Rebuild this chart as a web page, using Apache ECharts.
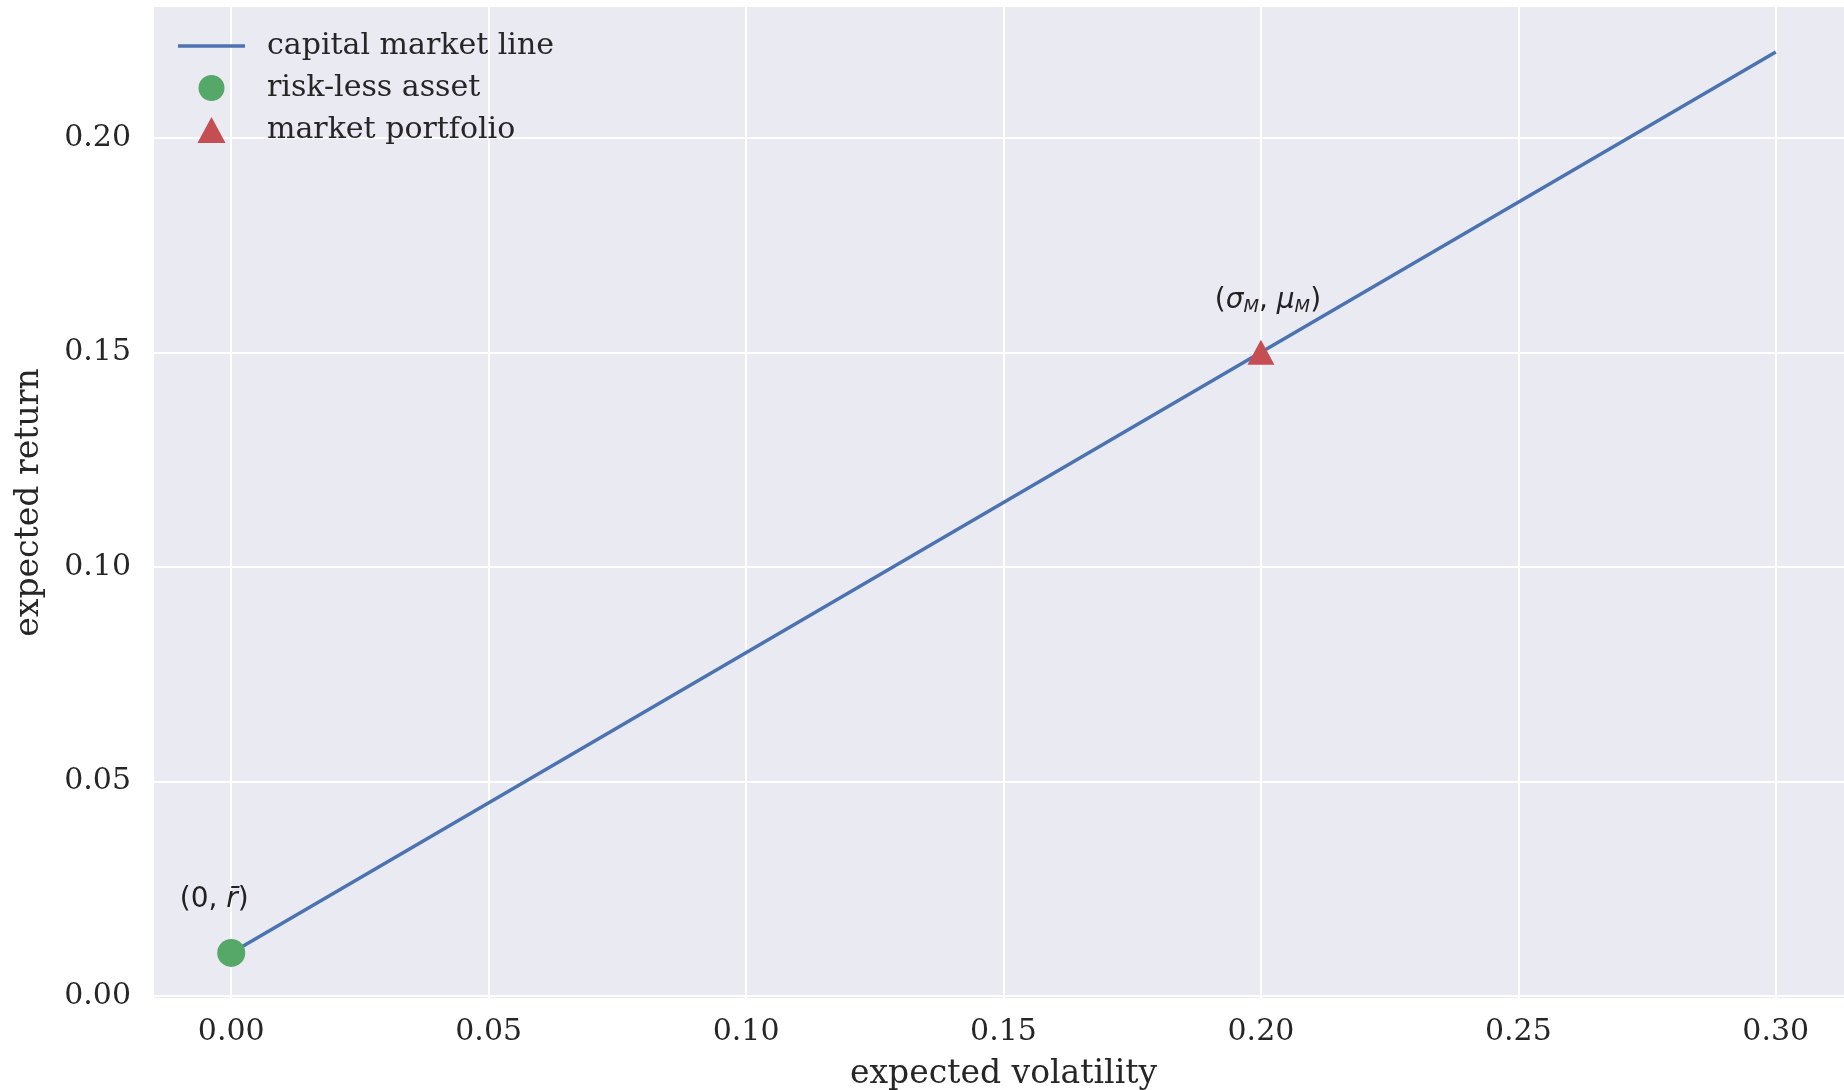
<!DOCTYPE html>
<html>
<head>
<meta charset="utf-8">
<script src="https://cdn.jsdelivr.net/npm/echarts@6/dist/echarts.min.js"></script>
<style>
  html, body { margin: 0; padding: 0; background: #ffffff; }
  #chart { width: 1844px; height: 1090px; }
</style>
</head>
<body>
<div id="chart"></div>
<script>
// ---- data ----
const cmlX = [0.0, 0.30];
const cmlY = [0.01, 0.22];
const risklessPoint = [0.0, 0.01];
const marketPoint = [0.20, 0.15];
const xTicks = [0.00, 0.05, 0.10, 0.15, 0.20, 0.25, 0.30];
const yTicks = [0.00, 0.05, 0.10, 0.15, 0.20];
const seriesNames = ['capital market line', 'risk-less asset', 'market portfolio'];
const xTitle = 'expected volatility';
const yTitle = 'expected return';

const SERIF = "'DejaVu Serif', serif";
const SANS = "'DejaVu Sans', sans-serif";
const TXT = '#262626';

const chart = echarts.init(document.getElementById('chart'), null, { renderer: 'canvas' });

const cmlData = cmlX.map((x, i) => [x, cmlY[i]]);

const subStyle = { fontFamily: SANS, fontStyle: 'italic', fontSize: 18, color: '#222', padding: [13, 0, 0, 0] };
const italStyle = { fontFamily: SANS, fontStyle: 'italic', fontSize: 28, color: '#222' };
const normStyle = { fontFamily: SANS, fontSize: 28, color: '#222' };

chart.setOption({
  animation: false,
  backgroundColor: '#ffffff',
  grid: {
    left: 154, top: 7, right: -9, bottom: 92,
    outerBoundsMode: 'none',
    containLabel: false,
    show: true, backgroundColor: '#EAEAF2', borderWidth: 0
  },
  legend: {
    data: [
      { name: seriesNames[0], icon: 'path://M0,0H67V3.5H0Z' },
      { name: seriesNames[1], icon: 'circle' },
      { name: seriesNames[2], icon: 'path://M13.5,0L27,25H0Z' }
    ],
    orient: 'vertical',
    left: 173, top: 26,
    itemWidth: 67, itemHeight: 26, itemGap: 12,
    textStyle: { fontFamily: SERIF, fontSize: 30, color: TXT, padding: [0, 0, 0, 17] }
  },
  xAxis: {
    type: 'value',
    min: -0.015, max: 0.315,
    name: xTitle, nameLocation: 'middle', nameGap: 60,
    nameTextStyle: { fontFamily: SERIF, fontSize: 33, color: TXT },
    axisLine: { show: false },
    axisTick: { show: false, customValues: xTicks },
    axisLabel: {
      customValues: xTicks, margin: 19,
      fontFamily: SERIF, fontSize: 30, color: TXT,
      formatter: v => Number(v).toFixed(2)
    },
    splitLine: { show: true, lineStyle: { color: '#ffffff', width: 2 } }
  },
  yAxis: {
    type: 'value',
    min: -0.0005, max: 0.2305,
    name: yTitle, nameLocation: 'middle', nameGap: 108, nameRotate: 90,
    nameTextStyle: { fontFamily: SERIF, fontSize: 33, color: TXT },
    axisLine: { show: false },
    axisTick: { show: false, customValues: yTicks },
    axisLabel: {
      customValues: yTicks, margin: 23,
      fontFamily: SERIF, fontSize: 30, color: TXT,
      formatter: v => Number(v).toFixed(2)
    },
    splitLine: { show: true, lineStyle: { color: '#ffffff', width: 2 } }
  },
  series: [
    {
      name: seriesNames[0],
      type: 'line',
      data: cmlData,
      symbol: 'none',
      lineStyle: { color: '#4C72B0', width: 3.5 },
      itemStyle: { color: '#4C72B0' },
      z: 2
    },
    {
      name: seriesNames[1],
      type: 'scatter',
      data: [risklessPoint],
      symbol: 'circle',
      symbolSize: 28,
      itemStyle: { color: '#55A868', opacity: 1 },
      z: 3,
      label: {
        show: true, position: 'top', distance: 25, offset: [-17, 0],
        formatter: '{n|(0, }{i|r\u0304}{n|)}',
        rich: { n: normStyle, i: italStyle }
      }
    },
    {
      name: seriesNames[2],
      type: 'scatter',
      data: [marketPoint],
      symbol: 'triangle',
      symbolSize: [27, 25],
      itemStyle: { color: '#C44E52', opacity: 1 },
      z: 3,
      label: {
        show: true, position: 'top', distance: 24, offset: [7, 0],
        formatter: '{n|(}{i|σ}{s|M}{n|, }{i|μ}{s|M}{n|)}',
        rich: { n: normStyle, i: italStyle, s: subStyle }
      }
    }
  ]
});
</script>
</body>
</html>
